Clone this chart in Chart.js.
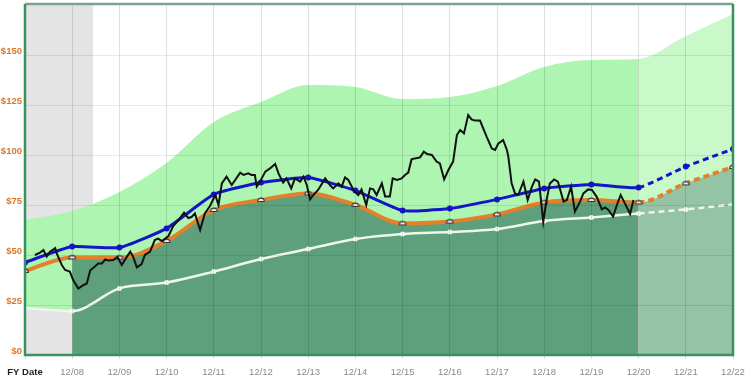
<!DOCTYPE html>
<html><head><meta charset="utf-8">
<script src="https://cdn.jsdelivr.net/npm/chart.js@4"></script>
<style>html,body{margin:0;padding:0;background:#fff}#wrap{width:750px;height:379px}</style>
</head><body><div id="wrap"><canvas id="c" width="750" height="379"></canvas></div>
<script>
const years = [2007,2008,2009,2010,2011,2012,2013,2014,2015,2016,2017,2018,2019,2020,2021,2022];
const xLabels = ['FY Date','12/08','12/09','12/10','12/11','12/12','12/13','12/14','12/15','12/16','12/17','12/18','12/19','12/20','12/21','12/22'];
const yMax = 175;
const yStep = 25;
const upperBand = [67.5,72,81.5,96,116.5,126.5,135,134,128,129,134.5,144,147.5,148,159.5,170.5];
const lowerLine = [23.5,22,33.3,36.2,41.7,48,53,58,60.5,61.5,63,67,68.8,70.8,72.8,75.3];
const blueLine = [46.3,54.2,53.7,63.3,80.3,86.2,88.7,82.2,72.2,73.2,77.8,83.3,85.3,83.7,94.2,103];
const orangeLine = [42,48.8,48.7,57,72.5,77.5,80.8,75,65.8,66.7,70.3,76.3,77.5,76.3,85.8,94];
const forecastFrom = 13;
const shadeEnd = 2008.44;
const priceT = [2007.21,2007.32,2007.39,2007.46,2007.53,2007.64,2007.67,2007.78,2007.85,2007.95,
2008.02,2008.13,2008.24,2008.31,2008.38,2008.48,2008.55,2008.63,2008.70,2008.77,2008.87,2008.96,
2009.05,2009.16,2009.23,2009.29,2009.37,2009.47,2009.54,2009.65,2009.75,2009.82,2009.90,2009.97,
2010.04,2010.14,2010.28,2010.37,2010.46,2010.53,2010.60,2010.71,2010.81,2010.92,
2011.03,2011.10,2011.17,2011.27,2011.38,2011.56,2011.63,2011.73,2011.80,2011.87,2011.91,2011.98,
2012.09,2012.19,2012.30,2012.37,2012.47,2012.54,2012.64,2012.72,2012.83,2012.90,2012.97,
2013.04,2013.11,2013.21,2013.36,2013.46,2013.53,2013.64,2013.71,2013.78,2013.85,2013.96,
2014.06,2014.13,2014.23,2014.31,2014.38,2014.45,2014.56,2014.63,2014.73,2014.79,2014.88,2014.98,
2015.05,2015.12,2015.19,2015.26,2015.37,2015.45,2015.52,2015.62,2015.72,2015.79,2015.88,2015.97,
2016.07,2016.15,2016.22,2016.30,2016.39,2016.46,2016.53,2016.64,2016.78,2016.89,2016.96,
2017.03,2017.13,2017.21,2017.24,2017.31,2017.38,2017.45,2017.56,2017.65,2017.74,2017.81,2017.89,2017.98,
2018.05,2018.12,2018.21,2018.29,2018.41,2018.48,2018.57,2018.65,2018.76,2018.83,2018.93,
2019.01,2019.11,2019.22,2019.29,2019.36,2019.46,2019.54,2019.62,2019.71,2019.82,2019.89];
const priceV = [50.0,51.2,52.5,49.2,51.7,53.4,50.9,45.0,42.5,41.7,
37.5,33.2,35.0,35.7,42.2,44.2,45.8,45.8,47.8,47.2,47.5,49.0,
45.0,49.2,51.7,49.2,43.8,45.5,50.0,51.7,57.5,58.2,57.0,58.2,
59.5,64.5,68.3,71.2,68.5,69.0,70.8,62.5,70.8,74.5,
80.0,75.0,85.8,89.2,85.0,91.2,90.0,90.8,90.0,90.0,84.2,86.7,
91.7,93.3,95.5,90.8,86.2,88.3,83.3,88.3,86.7,89.2,85.0,
77.8,80.0,82.5,88.3,85.0,83.3,85.8,84.2,88.8,87.5,82.5,
80.0,82.8,75.0,83.3,82.8,80.0,85.8,79.2,79.2,88.3,87.5,88.3,
90.0,91.2,97.8,98.3,98.8,101.7,100.5,100.0,96.7,95.8,87.8,92.5,
96.7,110.0,112.5,110.8,120.0,117.8,117.2,117.2,109.2,103.3,102.5,
105.8,107.5,102.5,99.2,85.8,80.8,80.0,86.7,77.5,84.2,87.8,86.7,66.7,
77.5,85.8,87.8,86.7,76.7,77.5,84.2,71.7,76.7,80.8,82.8,
82.5,79.2,72.8,73.8,72.5,69.2,75.0,80.0,75.8,70.5,77.5];

const pts = arr => arr.map((v,i)=>({x:years[i],y:v}));
const dash = ctx => ctx.p0DataIndex >= forecastFrom ? [6,4] : undefined;

function dome(){
  const c=document.createElement('canvas');c.width=10;c.height=8;
  const g=c.getContext('2d');
  g.beginPath();g.arc(5,5.5,3.3,Math.PI,0);g.closePath();
  g.fillStyle='#f2f2f2';g.fill();g.lineWidth=1.2;g.strokeStyle='#3a3a3a';g.stroke();
  return c;
}
const domeImg = dome();

const bgPlugin = {
  id:'bg',
  beforeDraw(chart){
    const {ctx, chartArea:a, scales:{x}} = chart;
    ctx.save();
    ctx.fillStyle='#e4e4e4';
    const x0=x.getPixelForValue(years[0]), x1=x.getPixelForValue(shadeEnd);
    ctx.fillRect(x0,a.top,x1-x0,a.bottom-a.top);
    ctx.restore();
  },
  afterDraw(chart){
    const {ctx, chartArea:a} = chart;
    ctx.save();
    ctx.lineWidth=2.5;
    ctx.strokeStyle='#7aa38a';
    ctx.beginPath();ctx.moveTo(a.left,a.top-1);ctx.lineTo(a.right,a.top-1);ctx.stroke();
    ctx.strokeStyle='#3a9160';
    ctx.beginPath();ctx.moveTo(a.left,a.top-1);ctx.lineTo(a.left,a.bottom);ctx.lineTo(a.right,a.bottom);ctx.lineTo(a.right,a.top-1);ctx.stroke();
    ctx.restore();
  }
};

new Chart(document.getElementById('c'),{
  type:'line',
  data:{datasets:[
    {data:priceT.map((t,i)=>({x:t,y:priceV[i]})),borderColor:'#111',borderWidth:2,pointRadius:0,tension:0,fill:false},
    {data:pts(blueLine),borderColor:'#1515c8',borderWidth:3,pointRadius:3,pointBackgroundColor:'#1515c8',pointBorderWidth:0,tension:0.15,fill:false,segment:{borderDash:dash}},
    {data:pts(orangeLine),borderColor:'#e5802a',borderWidth:4,pointStyle:domeImg,pointRadius:4,tension:0,cubicInterpolationMode:'monotone',
      fill:'origin',backgroundColor:'#5ea07b',
      segment:{borderDash:dash,backgroundColor:ctx=>ctx.p0DataIndex===0?'rgba(0,0,0,0)':(ctx.p0DataIndex>=forecastFrom?'#94c3a5':'#5ea07b')}},
    {data:pts(lowerLine),borderColor:'#eef6ee',borderWidth:2.5,pointRadius:2.5,pointBackgroundColor:'#f4faf4',pointBorderWidth:0,cubicInterpolationMode:'monotone',fill:false,segment:{borderDash:dash}},
    {data:pts(upperBand),borderWidth:0,borderColor:'rgba(0,0,0,0)',pointRadius:0,cubicInterpolationMode:'monotone',
      fill:3,backgroundColor:'#adf5b0',
      segment:{backgroundColor:ctx=>ctx.p0DataIndex>=forecastFrom?'#c9f8c9':'#adf5b0'}}
  ]},
  options:{
    responsive:false,animation:false,
    layout:{autoPadding:false,padding:{top:5,right:17,left:0,bottom:0}},
    plugins:{legend:{display:false},tooltip:{enabled:false},filler:{drawTime:'beforeDatasetsDraw'}},
    scales:{
      x:{type:'linear',min:years[0],max:years[years.length-1],
        afterFit:s=>{s.height=24;s.paddingLeft=0;s.paddingRight=0;},
        border:{display:false},
        grid:{color:'rgba(0,0,0,0.12)',z:1,drawTicks:true,tickLength:4,tickColor:'rgba(0,0,0,0.15)'},
        afterBuildTicks:s=>{s.ticks=years.map(v=>({value:v}));},
        ticks:{autoSkip:false,maxRotation:0,padding:8,
          callback:v=>{const i=years.indexOf(v);return i<0?'':xLabels[i];},
          font:ctx=>({family:'Liberation Sans',size:9.5,weight:ctx.index===0?'bold':'normal'}),
          color:ctx=>ctx.index===0?'#222':'#8a8a8a'}},
      y:{min:0,max:yMax,
        afterFit:s=>{s.width=25;s.paddingTop=0;s.paddingBottom=0;},
        border:{display:false},
        grid:{color:'rgba(0,0,0,0.09)',z:1,drawTicks:false},
        ticks:{stepSize:yStep,padding:3,labelOffset:-4,
          callback:v=>v>=yMax?null:'$'+v,
          font:{family:'Liberation Sans',size:9.5,weight:'bold'},color:'#d9772b'}}
    }
  },
  plugins:[bgPlugin]
});
</script></body></html>
